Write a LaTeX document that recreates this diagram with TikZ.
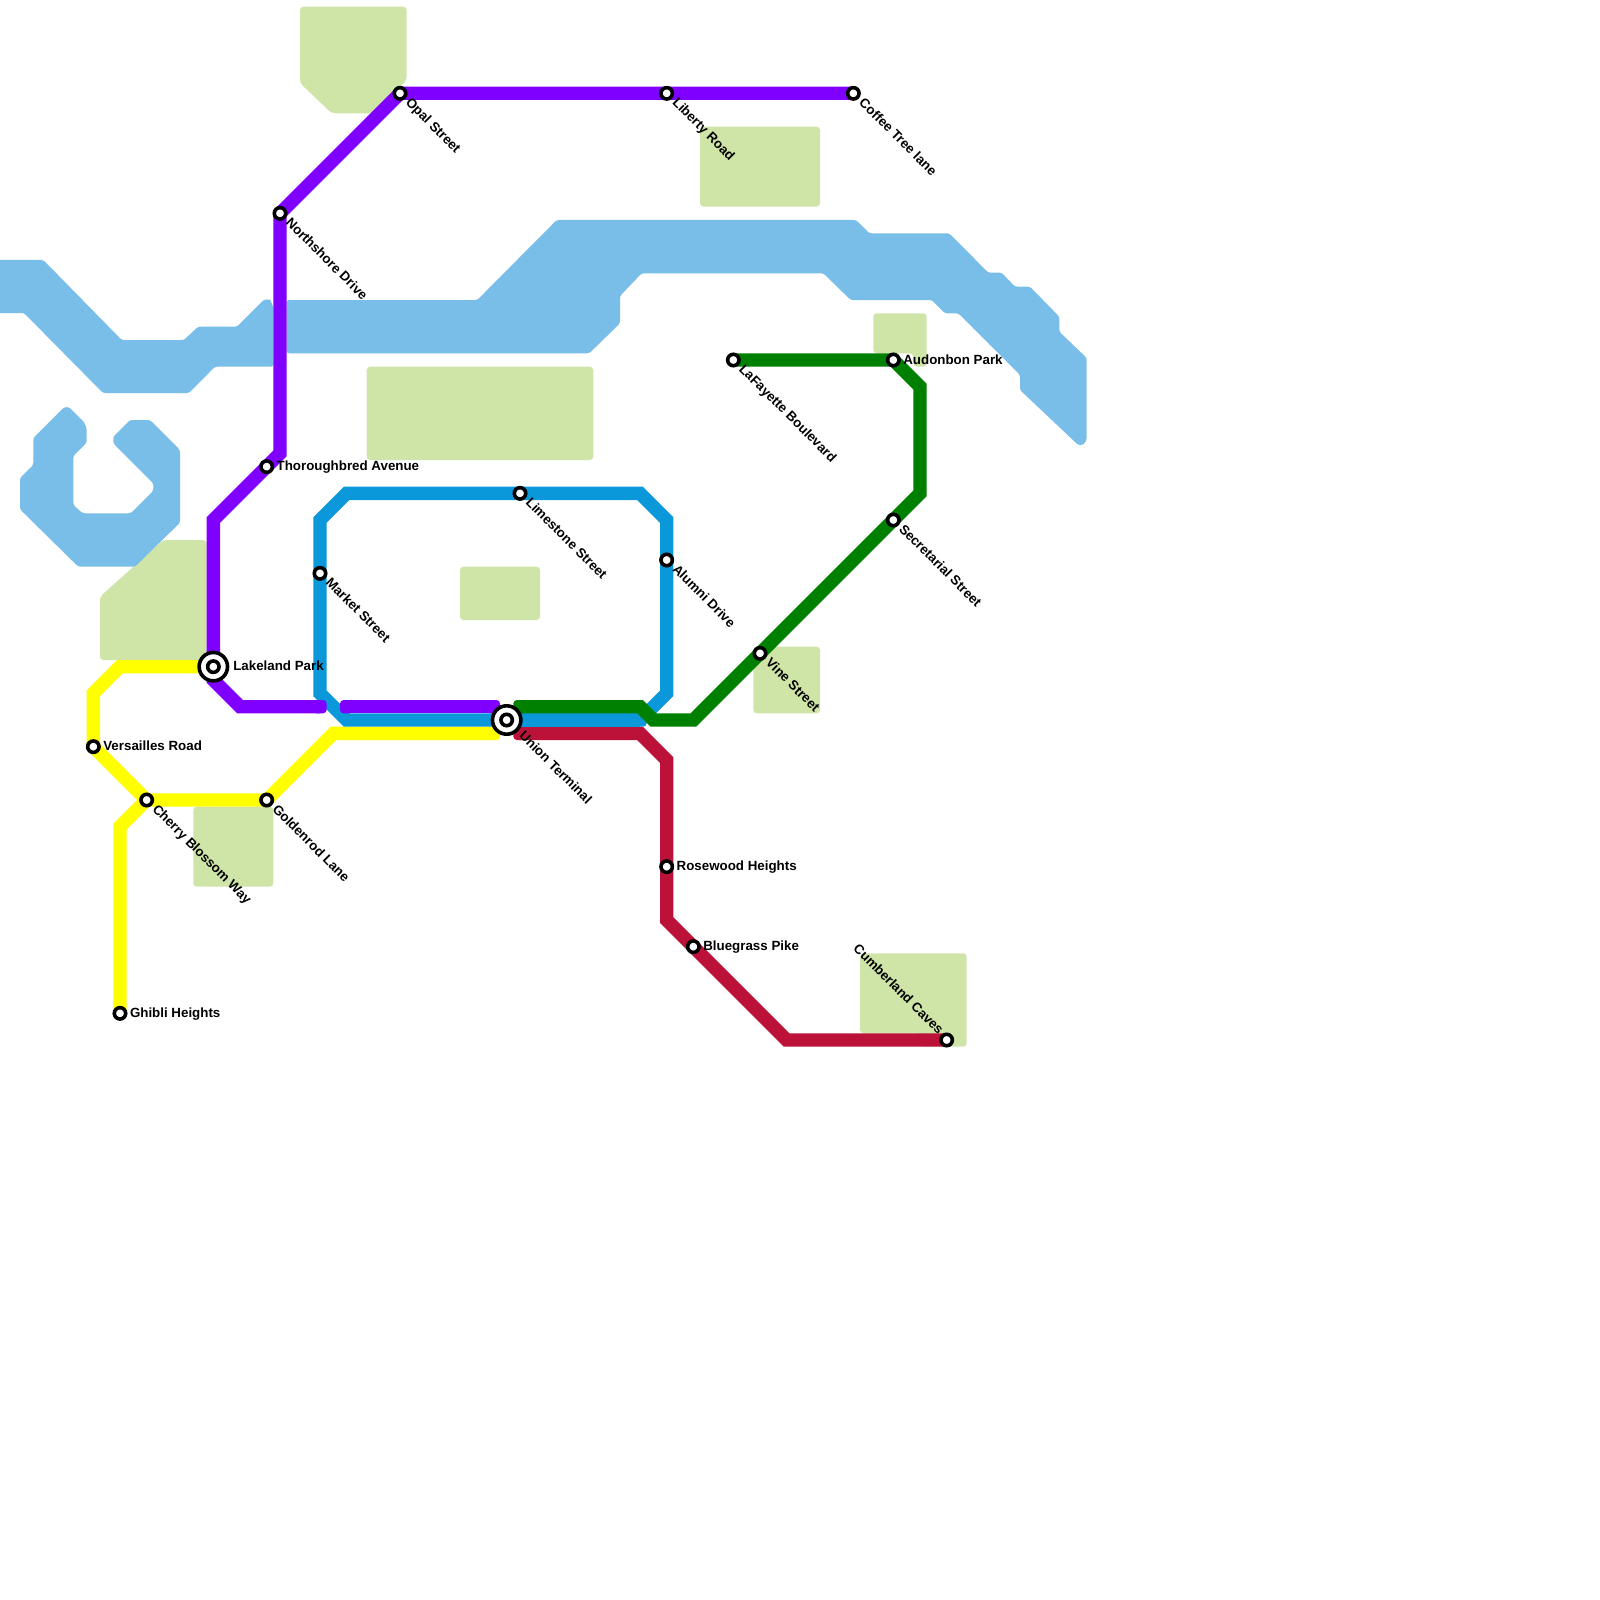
\documentclass[tikz,border=0pt]{standalone}
\usepackage{fontspec}
\setmainfont{Liberation Sans}
\definecolor{water}{HTML}{79BDE9}
\definecolor{park}{HTML}{CFE4A7}
\definecolor{lpurple}{HTML}{8000FF}
\definecolor{lblue}{HTML}{0A98DA}
\definecolor{lgreen}{HTML}{008000}
\definecolor{lred}{HTML}{BC1239}
\definecolor{lyellow}{HTML}{FFFF00}
\tikzset{
  metro/.style={line width=6.667pt,line cap=butt,line join=miter,miter limit=10},
  endcap/.style={rounded corners=1.8pt},
  stn/.style={circle,draw=black,fill=white,line width=1.8pt,outer sep=0pt,minimum size=5.7pt,inner sep=0pt},
  icout/.style={circle,draw=black,fill=white,line width=1.8pt,outer sep=0pt,minimum size=14.2pt,inner sep=0pt},
  lab/.style={inner sep=0pt,font=\bfseries\fontsize{6.667pt}{8pt}\selectfont,text=black},
  dl/.style={lab,rotate=-45,anchor=base west},
  dle/.style={lab,rotate=-45,anchor=base east},
  hl/.style={lab,anchor=base west},
  parkarea/.style={fill=park,rounded corners=1.8pt},
  waterarea/.style={fill=water,rounded corners=1.2pt}
}
\begin{document}
\begin{tikzpicture}[x=6.66667pt,y=-6.66667pt]
\useasboundingbox (0,0) rectangle (120,120);
% areas in reference pixels
\begin{scope}[x=0.5pt,y=-0.5pt]
\path[parkarea] (300,6.67)--(406.67,6.67)--(406.67,80)--(373.3,113.3)--(331.7,113.3)--(300,83)--cycle;
\path[parkarea] (700,126.67)--(820,126.67)--(820,206.67)--(700,206.67)--cycle;
\path[parkarea] (366.67,366.67)--(593.3,366.67)--(593.3,460)--(366.67,460)--cycle;
\path[parkarea] (460,566.67)--(540,566.67)--(540,620)--(460,620)--cycle;
\path[parkarea] (163.3,540)--(206.67,540)--(206.67,660)--(100,660)--(100,596.67)--cycle;
\path[parkarea] (193.3,806.67)--(273.3,806.67)--(273.3,886.67)--(193.3,886.67)--cycle;
\path[parkarea] (753.3,646.67)--(820,646.67)--(820,713.3)--(753.3,713.3)--cycle;
\path[parkarea] (873.3,313.3)--(926.67,313.3)--(926.67,366.67)--(913.3,366.67)--(913.3,353.3)--(873.3,353.3)--cycle;
\path[parkarea] (860,953.3)--(966.67,953.3)--(966.67,1046.67)--(920,1046.67)--(920,1033.3)--(860,1033.3)--cycle;
% water
\path[waterarea] (-5,260)--(43.3,260)--(121.7,340)--(184,340)--(198,326.7)--(237,326.7)[rounded corners=3pt]--(266.67,297)--(273.3,303.3)[rounded corners=1.2pt]--(273.3,366.67)--(215,366.67)--(189,393)--(103,393)--(24,313)--(-5,313)--cycle;
\path[waterarea] (286.7,300)--(477.3,300)--(556.7,220)--(856,220)--(869.3,233.3)--(949.3,233.3)--(988.3,272.7)--(1001.7,272.7)--(1015,286.7)--(1030,286.7)--(1059.3,316.7)--(1059.3,331.7)--(1086.7,358)[rounded corners=2pt]--(1086.7,441.7)--(1080,446.7)[rounded corners=1.2pt]--(1020,390)--(1020,375)--(958.3,313.3)--(945,313.3)--(931.7,300)--(850.7,300)--(823.3,273.3)--(641.7,273.3)--(620,296)--(620,323.3)--(589.3,353.3)--(286.7,353.3)--cycle;
\path[waterarea] (33.3,438)[rounded corners=3pt]--(66.67,404.67)--(86.67,424.67)[rounded corners=1.2pt]--(86.67,442.7)--(73.3,456)--(73.3,505)--(82.7,513.3)--(130.7,513.3)--(153.3,490.7)--(153.3,483.3)--(113.3,443.3)--(113.3,436.7)--(130,420)--(150,420)--(180,450)--(180,522.7)--(135,566.7)--(78.3,566.7)--(20,509.3)--(20,478)--(33.3,465)--cycle;
\end{scope}
% way points
\coordinate (opal) at (30,7);
\coordinate (liberty) at (50,7);
\coordinate (coffee) at (64,7);
\coordinate (north) at (21,16);
\coordinate (thorough) at (20,35);
\coordinate (pa) at (21,34);
\coordinate (pb) at (16,39);
\coordinate (lakeland) at (16,50);
\coordinate (pc) at (16,51);
\coordinate (pd) at (18,53);
\coordinate (pe) at (24,53);
\coordinate (pf) at (26,53);
\coordinate (pg) at (37,53);
\coordinate (union) at (38,54);
\coordinate (market) at (24,43);
\coordinate (limestone) at (39,37);
\coordinate (alumni) at (50,42);
\coordinate (ba) at (26,54);
\coordinate (bb) at (24,52);
\coordinate (bc) at (24,39);
\coordinate (bd) at (26,37);
\coordinate (be) at (48,37);
\coordinate (bf) at (50,39);
\coordinate (bg) at (50,52);
\coordinate (bh) at (48,54);
\coordinate (ga) at (39,53);
\coordinate (gb) at (48,53);
\coordinate (gc) at (49,54);
\coordinate (gd) at (52,54);
\coordinate (vine) at (57,49);
\coordinate (secret) at (67,39);
\coordinate (ge) at (69,37);
\coordinate (gf) at (69,29);
\coordinate (audubon) at (67,27);
\coordinate (lafayette) at (55,27);
\coordinate (ra) at (39,55);
\coordinate (rb) at (48,55);
\coordinate (rc) at (50,57);
\coordinate (rose) at (50,65);
\coordinate (rd) at (50,69);
\coordinate (blue) at (52,71);
\coordinate (re) at (59,78);
\coordinate (cumber) at (71,78);
\coordinate (ghibli) at (9,76);
\coordinate (ya) at (9,62);
\coordinate (cherry) at (11,60);
\coordinate (yb) at (9,50);
\coordinate (yc) at (7,52);
\coordinate (vers) at (7,56);
\coordinate (gold) at (20,60);
\coordinate (yd) at (25,55);
\coordinate (ye) at (37,55);
% lines
\draw[metro,lyellow] (ghibli)--(ya)--(cherry);
\draw[metro,lyellow] (lakeland)--(yb)--(yc)--(vers)--(cherry)--(gold)--(yd)--(ye);
\fill[lyellow,endcap] (ye) ++(-.5,-.5) rectangle ++(1,1);
\draw[metro,lred] (ra)--(rb)--(rc)--(rose)--(rd)--(blue)--(re)--(cumber);
\fill[lred,endcap] (ra) ++(-.5,-.5) rectangle ++(1,1);
\draw[metro,lblue] (union)--(ba)--(bb)--(market)--(bc)--(bd)--(limestone)--(be)--(bf)--(alumni)--(bg)--(bh);
\draw[metro,lblue] (bh)--(union);
\fill[lblue,endcap] (bh) ++(-.5,-.5) rectangle ++(1,1);
\draw[metro,lpurple] (coffee)--(liberty)--(opal)--(north)--(pa)--(thorough)--(pb)--(lakeland)--(pc)--(pd)--(pe);
\fill[lpurple,endcap] (pe) ++(-.5,-.5) rectangle ++(1,1);
\draw[metro,lpurple] (pf)--(pg);
\fill[lpurple,endcap] (pf) ++(-.5,-.5) rectangle ++(1,1);
\fill[lpurple,endcap] (pg) ++(-.5,-.5) rectangle ++(1,1);
\fill[lgreen,endcap] (ga) ++(-.5,-.5) rectangle ++(1,1);
\draw[metro,lgreen] (ga)--(gb)--(gc)--(gd)--(vine)--(secret)--(ge)--(gf)--(audubon)--(lafayette);
% stations
\node[stn] (sOpal) at (opal) {};
\node[stn] (sLiberty) at (liberty) {};
\node[stn] (sCoffee) at (coffee) {};
\node[stn] (sNorth) at (north) {};
\node[stn] (sThorough) at (thorough) {};
\node[icout] (iLakeland) at (lakeland) {};
\node[stn] (sLakeland) at (lakeland) {};
\node[icout] (iUnion) at (union) {};
\node[stn] (sUnion) at (union) {};
\node[stn] (sMarket) at (market) {};
\node[stn] (sLimestone) at (limestone) {};
\node[stn] (sAlumni) at (alumni) {};
\node[stn] (sVine) at (vine) {};
\node[stn] (sSecret) at (secret) {};
\node[stn] (sAudubon) at (audubon) {};
\node[stn] (sLafayette) at (lafayette) {};
\node[stn] (sRose) at (rose) {};
\node[stn] (sBlue) at (blue) {};
\node[stn] (sCumber) at (cumber) {};
\node[stn] (sGhibli) at (ghibli) {};
\node[stn] (sCherry) at (cherry) {};
\node[stn] (sVers) at (vers) {};
\node[stn] (sGold) at (gold) {};
% labels
\path (opal) ++(0.36,0.74) node[dl] (lOpal) {Opal Street};
\path (liberty) ++(0.36,0.74) node[dl] (lLiberty) {Liberty Road};
\path (coffee) ++(0.36,0.74) node[dl] (lCoffee) {Coffee Tree lane};
\path (north) ++(0.36,0.74) node[dl] (lNorth) {Northshore Drive};
\path (limestone) ++(0.36,0.74) node[dl] (lLimestone) {Limestone Street};
\path (alumni) ++(0.36,0.74) node[dl] (lAlumni) {Alumni Drive};
\path (market) ++(0.36,0.74) node[dl] (lMarket) {Market Street};
\path (cherry) ++(0.36,0.74) node[dl] (lCherry) {Cherry Blossom Way};
\path (gold) ++(0.36,0.74) node[dl] (lGold) {Goldenrod Lane};
\path (union) ++(0.87,1.23) node[dl] (lUnion) {Union Terminal};
\path (lafayette) ++(0.36,0.74) node[dl] (lLafayette) {LaFayette Boulevard};
\path (vine) ++(0.36,0.74) node[dl] (lVine) {Vine Street};
\path (secret) ++(0.36,0.74) node[dl] (lSecret) {Secretarial Street};
\path (cumber) ++(-0.62,-0.35) node[dle] (lCumber) {Cumberland Caves};
\path (thorough) ++(0.72,0.3) node[hl] (lThorough) {Thoroughbred Avenue};
\path (lakeland) ++(1.47,0.3) node[hl] (lLakeland) {Lakeland Park};
\path (vers) ++(0.72,0.3) node[hl] (lVers) {Versailles Road};
\path (ghibli) ++(0.72,0.3) node[hl] (lGhibli) {Ghibli Heights};
\path (rose) ++(0.72,0.3) node[hl] (lRose) {Rosewood Heights};
\path (blue) ++(0.72,0.3) node[hl] (lBlue) {Bluegrass Pike};
\path (audubon) ++(0.72,0.3) node[hl] (lAudubon) {Audonbon Park};
\end{tikzpicture}
\end{document}
